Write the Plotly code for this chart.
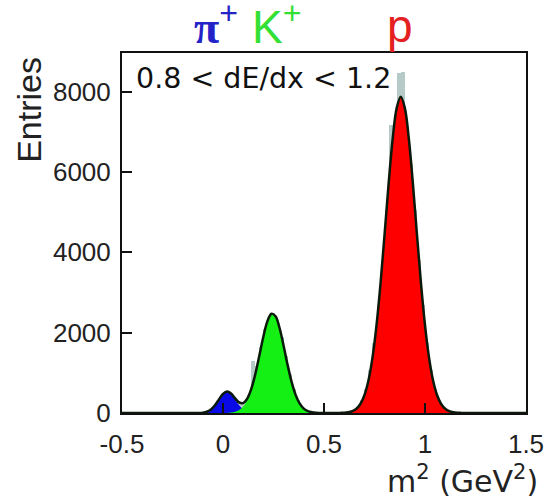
import plotly.graph_objects as go

# ---- data ----
# pi+ component (fit)
pi_x = [-0.16, -0.14, -0.12, -0.10, -0.08, -0.06, -0.04, -0.02, 0.00, 0.02,
        0.04, 0.06, 0.08, 0.10, 0.12, 0.14, 0.16, 0.18]
pi_y = [0, 0, 2, 9, 31, 86, 191, 337, 473, 530,
        473, 337, 191, 86, 31, 9, 2, 0]

# K+ component (fit)
k_x = [-0.02, 0.00, 0.02, 0.04, 0.06, 0.08, 0.10, 0.12, 0.14, 0.16, 0.18, 0.20,
       0.22, 0.24, 0.26, 0.28, 0.30, 0.32, 0.34, 0.36, 0.38, 0.40, 0.42, 0.44,
       0.46, 0.48, 0.50]
k_y = [0, 1, 3, 10, 29, 72, 161, 325, 591, 969, 1432, 1906,
       2286, 2472, 2408, 2115, 1673, 1193, 767, 444, 232, 109, 46, 18,
       6, 2, 0]

# proton component (fit)
p_x = [0.56, 0.58, 0.60, 0.62, 0.64, 0.66, 0.68, 0.70, 0.72, 0.74, 0.76, 0.78,
       0.80, 0.82, 0.84, 0.86, 0.88, 0.90, 0.92, 0.94, 0.96, 0.98, 1.00, 1.02,
       1.04, 1.06, 1.08, 1.10, 1.12, 1.14, 1.16, 1.18, 1.20]
p_y = [0, 3, 7, 19, 47, 107, 225, 442, 808, 1378, 2188, 3235,
       4455, 5714, 6826, 7595, 7870, 7595, 6826, 5714, 4455, 3235, 2188, 1378,
       808, 442, 225, 107, 47, 19, 7, 3, 0]

# measured histogram (grey)
hist_x = [-0.13, -0.11, -0.09, -0.07, -0.05, -0.03, -0.01, 0.01, 0.03, 0.05,
          0.07, 0.09, 0.11, 0.13, 0.15, 0.17, 0.19, 0.21, 0.23, 0.25,
          0.27, 0.29, 0.31, 0.33, 0.35, 0.37, 0.39, 0.41, 0.43, 0.45,
          0.47, 0.49, 0.57, 0.59, 0.61, 0.63, 0.65, 0.67, 0.69, 0.71,
          0.73, 0.75, 0.77, 0.79, 0.81, 0.83, 0.85, 0.87, 0.89, 0.91,
          0.93, 0.95, 0.97, 0.99, 1.01, 1.03, 1.05, 1.07, 1.09, 1.11,
          1.13, 1.15, 1.17, 1.19]
hist_y = [1, 5, 18, 55, 135, 260, 400, 500, 505, 420,
          305, 245, 290, 460, 1300, 1180, 1650, 2080, 2380, 2440,
          2250, 1880, 1420, 960, 590, 325, 160, 70, 28, 10,
          3, 1, 1, 4, 11, 30, 72, 155, 320, 600,
          1060, 1750, 2680, 3800, 5050, 7170, 7100, 8460, 8480, 7150,
          6200, 5050, 3800, 2680, 1750, 1060, 600, 320, 155, 72,
          30, 11, 4, 1]

x_range = [-0.5, 1.5]
y_range = [0, 8960]
x_ticks = [-0.5, 0, 0.5, 1, 1.5]
x_ticktext = ["-0.5", "0", "0.5", "1", "1.5"]
y_ticks = [0, 2000, 4000, 6000, 8000]
y_ticktext = ["0", "2000", "4000", "6000", "8000"]

# ---- total fit = sum of components on the union grid ----
tot = {}
for xs, ys in ((pi_x, pi_y), (k_x, k_y), (p_x, p_y)):
    for a, b in zip(xs, ys):
        key = round(a, 2)
        tot[key] = tot.get(key, 0) + b
tot[x_range[0]] = 0
tot[x_range[1]] = 0
tot_x = sorted(tot)
tot_y = [tot[k] for k in tot_x]

fig = go.Figure()
fig.add_trace(go.Bar(x=hist_x, y=hist_y, width=0.02,
                     marker=dict(color="#b6cbc7", line=dict(width=0))))
fig.add_trace(go.Scatter(x=pi_x, y=pi_y, mode="lines", fill="tozeroy",
                         fillcolor="#0a0ae6", line=dict(width=0, shape="spline", color="#0a0ae6")))
fig.add_trace(go.Scatter(x=k_x, y=k_y, mode="lines", fill="tozeroy",
                         fillcolor="#14f014", line=dict(width=0, shape="spline", color="#14f014")))
fig.add_trace(go.Scatter(x=p_x, y=p_y, mode="lines", fill="tozeroy",
                         fillcolor="#ff0000", line=dict(width=0, shape="spline", color="#ff0000")))
fig.add_trace(go.Scatter(x=tot_x, y=tot_y, mode="lines",
                         line=dict(width=2.5, shape="spline", color="#0a1a0a")))

tick_font = dict(family="Liberation Sans, Arial", size=26, color="#222")
fig.update_xaxes(range=x_range, tickvals=x_ticks, ticktext=x_ticktext,
                 ticks="inside", ticklen=10, tickwidth=1.5, tickcolor="#111",
                 showline=True, linewidth=2, linecolor="#111", mirror=True,
                 showgrid=False, zeroline=False, tickfont=tick_font,
                 ticklabelstandoff=7)
fig.update_yaxes(range=y_range, tickvals=y_ticks, ticktext=y_ticktext,
                 ticks="inside", ticklen=10, tickwidth=1.5, tickcolor="#111",
                 showline=True, linewidth=2, linecolor="#111", mirror=True,
                 showgrid=False, zeroline=False, tickfont=tick_font,
                 ticklabelstandoff=4)

def px2x(px):
    return (px - 122) / 412.0

def py2y(py):
    return (413 - py) / 360.0

anns = [
    dict(text="0.8 &lt; dE/dx &lt; 1.2", x=px2x(134), y=py2y(79), xanchor="left",
         yanchor="middle", font=dict(family="DejaVu Sans", size=28.5, color="#111")),
    dict(text="<span style='font-family:Liberation Serif;font-weight:bold'>π</span><sup>+</sup>",
         x=px2x(218), y=py2y(24), xanchor="center", yanchor="middle",
         font=dict(family="Liberation Sans, Arial", size=46, color="#2323c8")),
    dict(text="K<sup>+</sup>", x=px2x(280), y=py2y(24), xanchor="center", yanchor="middle",
         font=dict(family="Liberation Sans, Arial", size=46, color="#33e033")),
    dict(text="p", x=px2x(405), y=py2y(26), xanchor="center", yanchor="middle",
         font=dict(family="Liberation Sans, Arial", size=46, color="#e42020")),
    dict(text="Entries", x=px2x(27), y=py2y(110), xanchor="center", yanchor="middle",
         textangle=-90, font=dict(family="Liberation Sans, Arial", size=34, color="#222")),
    dict(text="m<sup>2</sup> (GeV<sup>2</sup>)", x=px2x(390), y=py2y(479),
         xanchor="left", yanchor="middle",
         font=dict(family="DejaVu Sans", size=30, color="#222")),
]
for a in anns:
    a.update(xref="paper", yref="paper", showarrow=False)
fig.update_layout(annotations=anns)

fig.update_layout(width=556, height=496, showlegend=False,
                  margin=dict(l=122, r=22, t=53, b=83),
                  plot_bgcolor="white", paper_bgcolor="white", bargap=0)
fig.write_html("out.html")
